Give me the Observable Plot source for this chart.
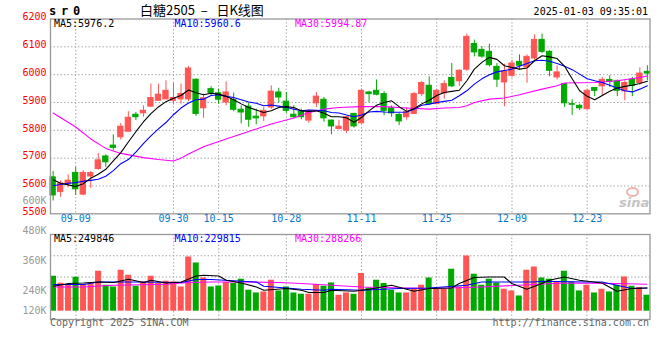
<!DOCTYPE html>
<html><head><meta charset="utf-8">
<script src="https://cdn.jsdelivr.net/npm/d3@7"></script>
<script src="https://cdn.jsdelivr.net/npm/@observablehq/plot@0.6"></script>
<style>
body{margin:0;background:#fff;width:660px;height:360px;overflow:hidden;position:relative;font-family:"DejaVu Sans Mono",monospace;}
#price,#vol{position:absolute;left:0;}
#price{top:0}
#vol{top:190px}
.t{position:absolute;font-size:10px;white-space:pre;line-height:1;font-family:"DejaVu Sans Mono",monospace;}
</style></head><body>
<div id="price"></div><div id="vol"></div>
<div class="t" style="left:49px;top:5px;font-weight:bold;font-size:12px;letter-spacing:4.8px">sr0</div>
<div class="t" style="left:140px;top:3px;font-size:13px;font-family:'Noto Sans CJK SC',sans-serif">白糖2505  –   日K线图</div>
<div class="t" style="right:12px;top:7px">2025-01-03 09:35:01</div>
<div class="t" style="left:54px;top:19px;color:#000">MA5:5976.2</div>
<div class="t" style="left:174.5px;top:19px;color:#00f">MA10:5960.6</div>
<div class="t" style="left:295px;top:19px;color:#f0f">MA30:5994.87</div>
<div class="t" style="left:54px;top:234px;color:#000">MA5:249846</div>
<div class="t" style="left:174.5px;top:234px;color:#00f">MA10:229815</div>
<div class="t" style="left:295px;top:234px;color:#f0f">MA30:288266</div>
<div class="t" style="left:50px;top:318px;color:#666">Copyright 2025 SINA.COM</div>
<div class="t" style="right:11px;top:318px;color:#666">http://finance.sina.com.cn</div>
<div style="position:absolute;left:626px;top:187px;width:9px;height:6px;border:2px solid #f2b0b0;border-radius:50%"></div>
<div class="t" style="left:619px;top:195px;font:italic bold 13px 'DejaVu Sans',sans-serif;color:#c4c4c4">sina</div>
<script>
const DATES = [
 "09-04","09-05","09-06","09-09","09-10","09-11","09-12","09-13","09-18","09-19","09-20","09-23","09-24","09-25","09-26","09-27","09-30",
 "10-08","10-09","10-10","10-11","10-14","10-15","10-16","10-17","10-18","10-21","10-22","10-23","10-24","10-25","10-28","10-29","10-30","10-31",
 "11-01","11-04","11-05","11-06","11-07","11-08","11-11","11-12","11-13","11-14","11-15","11-18","11-19","11-20","11-21","11-22","11-25","11-26","11-27","11-28","11-29",
 "12-02","12-03","12-04","12-05","12-06","12-09","12-10","12-11","12-12","12-13","12-16","12-17","12-18","12-19","12-20","12-23","12-24","12-25","12-26","12-27","12-30","12-31",
 "01-02","01-03"];
const OPEN  = [5631,5578,5607,5647,5569,5634,5661,5706,5745,5775,5795,5856,5861,5885,5906,5911,5906,5911,5911,5982,
               5879,5948,5933,5900,5909,5874,5885,5849,5850,5882,5936,5903,5856,5867,5835,5897,5910,5835,5805,5799,
               5859,5825,5936,5942,5930,5879,5855,5847,5859,5930,5960,5894,5933,5988,5976,6018,6110,6089,6082,6028,
               5972,5996,6046,6026,6058,6125,6082,5990,5966,5894,5888,5876,5952,5958,5981,5976,5940,5982,5970,6010];
const HIGH  = [5652,5619,5640,5667,5655,5652,5717,5712,5784,5825,5867,5864,5888,5966,5966,5978,5968,5966,6029,5984,
               5930,5957,5948,5974,5934,5888,5898,5876,5882,5960,5951,5936,5888,5876,5874,5936,5918,5836,5835,5849,
               5861,5948,5940,5981,5939,5888,5861,5880,5936,5975,5992,5946,5978,6040,6018,6146,6124,6101,6110,6040,
               6038,6050,6071,6071,6143,6146,6086,6032,5968,5910,5894,5946,5953,5990,5996,5981,5978,5990,6024,6032];
const LOW   = [5546,5559,5594,5566,5565,5591,5656,5667,5727,5765,5795,5835,5847,5885,5906,5911,5891,5894,5903,5850,
               5843,5924,5894,5888,5867,5823,5811,5820,5831,5876,5898,5861,5841,5838,5825,5882,5829,5784,5801,5789,
               5808,5823,5900,5924,5853,5847,5817,5837,5856,5921,5888,5892,5912,5954,5958,6012,6064,6059,6028,5954,
               5885,5988,6016,5969,6052,6076,5992,5981,5882,5853,5871,5873,5921,5924,5954,5921,5906,5921,5963,5978];
const CLOSE = [5566,5609,5619,5588,5647,5646,5692,5685,5737,5813,5845,5847,5870,5916,5928,5942,5916,5930,6022,5859,
               5915,5934,5910,5936,5874,5864,5838,5843,5870,5939,5918,5870,5847,5847,5867,5921,5843,5814,5813,5847,
               5814,5942,5930,5928,5870,5861,5832,5865,5930,5970,5894,5942,5966,5958,6014,6136,6080,6065,6034,5982,
               6012,6040,6032,6064,6125,6082,6014,6008,5897,5892,5879,5942,5942,5981,5975,5942,5970,5960,6004,6004];
// volume, thousands
const VOLUME = [300,272,264,296,267,272,320,264,257,324,304,260,277,300,271,280,277,257,377,353,
                293,257,261,275,271,288,244,233,237,284,241,257,233,228,228,267,260,273,224,233,
                228,311,253,284,271,244,233,233,247,264,293,248,248,328,257,381,308,264,288,273,
                248,241,221,324,337,293,288,277,320,277,241,264,233,248,237,264,297,260,255,224];
// moving averages: [candle index, value]
const MA5 = [[0,5622],[1,5610],[2,5604],[3,5598],[4,5608],[5,5628],[6,5642],[7,5660],[8,5690],[9,5720],[10,5758],[11,5795],[12,5830],[13,5860],[14,5884],[15,5903],[16,5915],[17,5925],[18,5945],[19,5935],
  [20,5928],[21,5933],[22,5930],[23,5922],[24,5910],[25,5895],[26,5882],[27,5873],[28,5864],[29,5870],[30,5882],[31,5885],[32,5882],[33,5870],[34,5868],[35,5870],[36,5861],[37,5849],[38,5849],[39,5845],
  [40,5829],[41,5846],[42,5870],[43,5890],[44,5900],[45,5906],[46,5885],[47,5868],[48,5878],[49,5895],[50,5908],[51,5925],[52,5936],[53,5940],[54,5944],[55,5978],[56,6020],[57,6044],[58,6062],[59,6055],
  [60,6032],[61,6026],[62,6020],[63,6024],[64,6050],[65,6068],[66,6064],[67,6058],[68,6030],[69,5985],[70,5942],[71,5922],[72,5910],[73,5925],[74,5940],[75,5952],[76,5958],[77,5962],[78,5968],[79,5976]];
const MA10 = [[0,5601],[1,5605],[2,5610],[3,5612],[4,5617],[5,5620],[6,5624],[7,5635],[8,5655],[9,5680],[10,5695],[11,5722],[12,5752],[13,5780],[14,5805],[15,5828],[16,5856],[17,5880],[18,5898],[19,5910],
  [20,5912],[21,5925],[22,5928],[23,5922],[24,5918],[25,5910],[26,5902],[27,5897],[28,5888],[29,5891],[30,5887],[31,5883],[32,5876],[33,5870],[34,5873],[35,5872],[36,5870],[37,5864],[38,5862],[39,5855],
  [40,5849],[41,5855],[42,5866],[43,5868],[44,5866],[45,5865],[46,5865],[47,5866],[48,5876],[49,5890],[50,5894],[51,5900],[52,5904],[53,5908],[54,5924],[55,5942],[56,5966],[57,5985],[58,6000],[59,6010],
  [60,6015],[61,6020],[62,6030],[63,6040],[64,6050],[65,6052],[66,6048],[67,6040],[68,6030],[69,6018],[70,6002],[71,5985],[72,5978],[73,5972],[74,5962],[75,5952],[76,5942],[77,5938],[78,5948],[79,5960]];
const MA30 = [[0,5862],[3,5812],[5,5769],[7,5735],[9,5717],[12,5702],[14,5695],[16,5690],[17,5700],[18,5715],[20,5741],[23,5769],[25,5787],[27,5805],[29,5823],[32,5844],[34,5864],[36,5876],[38,5882],
  [41,5885],[44,5885],[47,5880],[50,5876],[52,5880],[54,5882],[55,5888],[56,5900],[58,5912],[60,5916],[62,5928],[65,5948],[67,5960],[68,5970],[72,5972],[75,5978],[78,5990],[79,5995]];
const VMA5 = [[0,260],[2,271],[4,273],[6,277],[8,275],[10,288],[12,275],[13,284],[15,273],[17,277],[19,301],[20,304],[22,301],[23,284],[25,273],[27,257],[28,244],[31,251],[33,244],[34,235],[36,235],[37,244],
  [40,240],[42,248],[45,264],[48,240],[50,251],[53,253],[54,271],[56,295],[58,297],[60,297],[61,271],[63,248],[65,271],[66,284],[68,297],[70,284],[73,273],[75,240],[77,251],[79,253]];
const VMA10 = [[0,267],[4,267],[6,277],[11,277],[17,275],[19,287],[21,287],[27,277],[28,260],[31,253],[33,248],[36,244],[37,248],[41,244],[46,251],[50,253],[55,264],[57,277],[64,277],[65,280],[71,277],[73,277],[75,264],[77,251],[79,253]];
const VMA30 = [[0,257],[4,257],[6,261],[8,264],[15,268],[18,275],[21,277],[25,277],[30,275],[33,271],[37,264],[41,257],[50,251],[57,257],[64,267],[68,273],[75,271],[79,268]];

const PRICE_TICKS = [6200,6100,6000,5900,5800,5700,5600,5500];
const TICK_DATES = ["09-09","09-30","10-15","10-28","11-11","11-25","12-09","12-23"];
const VOL_TICKS = [600,480,360,240,120];

const RED = "#ff5555", GREEN = "#00a800", GRID = "#a8a8a8", BORDER = "#999";
const FONT = "DejaVu Sans Mono";

const candles = DATES.map((d, i) => ({date: d, open: OPEN[i], high: HIGH[i], low: LOW[i], close: CLOSE[i],
  color: CLOSE[i] >= OPEN[i] ? RED : GREEN}));
const vols = DATES.map((d, i) => ({date: d, v: VOLUME[i], color: candles[i].color}));
const toLine = arr => arr.map(([i, v]) => ({date: DATES[i], v}));

const priceGrid = PRICE_TICKS.filter(t => t !== 6200 && t !== 5500);

const pricePlot = Plot.plot({
  width: 660, height: 230,
  marginLeft: 50, marginRight: 10.5, marginTop: 18.5, marginBottom: 16.7,
  style: {background: "none", overflow: "visible", fontFamily: FONT},
  x: {type: "band", domain: DATES, paddingInner: 0.3, paddingOuter: 0, axis: null},
  y: {domain: [5500, 6200], axis: null},
  color: {type: "identity"},
  marks: [
    Plot.ruleY(priceGrid, {stroke: GRID, strokeDasharray: "1.5,2"}),
    Plot.ruleX(TICK_DATES, {stroke: GRID, strokeDasharray: "1.5,2"}),
    Plot.ruleX(candles, {x: "date", y1: "low", y2: "high", stroke: "color", strokeWidth: 1}),
    Plot.barY(candles, {x: "date", y1: "open", y2: "close", fill: "color", stroke: "color", strokeWidth: 1}),
    Plot.line(toLine(MA30), {x: "date", y: "v", stroke: "#f0f", strokeWidth: 1.1}),
    Plot.line(toLine(MA10), {x: "date", y: "v", stroke: "#00f", strokeWidth: 1.1}),
    Plot.line(toLine(MA5), {x: "date", y: "v", stroke: "#000", strokeWidth: 1.1}),
    Plot.frame({stroke: BORDER, strokeWidth: 1.3}),
    Plot.text(PRICE_TICKS, {y: d => d, text: d => String(d), frameAnchor: "left", textAnchor: "end", dx: -4, dy: -2,
      fill: "#f00", fontSize: 10, fontFamily: FONT}),
    Plot.text(TICK_DATES, {x: d => d, text: d => d, frameAnchor: "bottom", dy: 8, fill: "#0878d0", fontSize: 10, fontFamily: FONT})
  ]
});
document.getElementById("price").appendChild(pricePlot);

const VOL_DOMAIN = [160, 467];
const VOL_RANGE = [120.7, 44];
const VOL_FRAME = [44, 129];
const volScale = d3.scaleLinear().domain(VOL_DOMAIN).range(VOL_RANGE);
const volGrid = [0.25, 0.5, 0.75].map(f => volScale.invert(VOL_FRAME[0] + (VOL_FRAME[1] - VOL_FRAME[0]) * f));

const volPlot = Plot.plot({
  width: 660, height: 170,
  marginLeft: 50, marginRight: 10.5, marginTop: 44, marginBottom: 41,
  style: {background: "none", overflow: "visible", fontFamily: FONT},
  x: {type: "band", domain: DATES, paddingInner: 0.2, paddingOuter: 0, axis: null},
  y: {domain: VOL_DOMAIN, range: VOL_RANGE, axis: null},
  color: {type: "identity"},
  marks: [
    Plot.ruleY(volGrid, {stroke: GRID, strokeDasharray: "1.5,2"}),
    Plot.ruleX(TICK_DATES, {stroke: GRID, strokeDasharray: "1.5,2"}),
    Plot.barY(vols, {x: "date", y1: VOL_DOMAIN[0], y2: "v", fill: "color"}),
    Plot.line(toLine(VMA30), {x: "date", y: "v", stroke: "#f0f", strokeWidth: 1.1}),
    Plot.line(toLine(VMA10), {x: "date", y: "v", stroke: "#00f", strokeWidth: 1.1}),
    Plot.line(toLine(VMA5), {x: "date", y: "v", stroke: "#000", strokeWidth: 1.1}),
    Plot.frame({stroke: BORDER, strokeWidth: 1.3}),
    Plot.text(VOL_TICKS, {y: d => Math.max(d, VOL_DOMAIN[0]), text: d => d + "K", frameAnchor: "left", textAnchor: "end", dx: -4,
      fill: "#999", fontSize: 10, fontFamily: FONT})
  ]
});
document.getElementById("vol").appendChild(volPlot);
</script>
</body></html>
